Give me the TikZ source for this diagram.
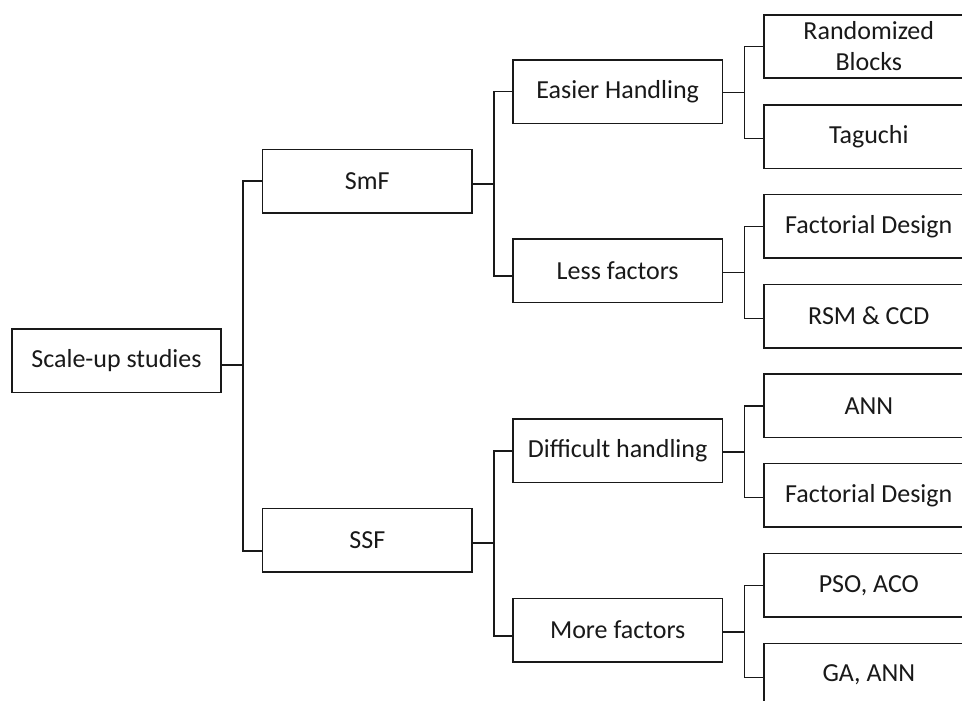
\documentclass[tikz,border=0pt]{standalone}
\usepackage{fontspec}
\setmainfont{Carlito}
\usetikzlibrary{calc}
\begin{document}
\begin{tikzpicture}[x=1pt,y=-1pt,
  box/.style={draw=black!90, line width=1.6pt, minimum width=209.5pt, minimum height=63.4pt,
    inner sep=0pt, align=center, font=\fontsize{26}{31}\selectfont, text=black!90},
  link/.style={draw=black!90, line width=1.6pt}]
\clip (0,0) rectangle (962,701);
\fill[white] (0,0) rectangle (962,701);
% column 1
\node[box] (su) at (116.5,360.8) {Scale-up studies};
% column 2
\node[box] (smf) at (367.3,181) {SmF};
\node[box] (ssf) at (367.3,540) {SSF};
% column 3
\node[box] (eh) at (617.7,91.7) {Easier Handling};
\node[box] (lf) at (617.7,270.8) {Less factors};
\node[box] (dh) at (617.7,450.7) {Difficult handling};
\node[box] (mf) at (617.7,630) {More factors};
% column 4
\node[box] (rb) at (868.8,46.5) {Randomized\\Blocks};
\node[box] (tg) at (868.8,136.7) {Taguchi};
\node[box] (fd1) at (868.8,226.3) {Factorial Design};
\node[box] (rsm) at (868.8,316) {RSM \& CCD};
\node[box] (ann) at (868.8,405.7) {ANN};
\node[box] (fd2) at (868.8,495.3) {Factorial Design};
\node[box] (pso) at (868.8,585.3) {PSO, ACO};
\node[box] (ga) at (868.8,675) {GA, ANN};
% junction points
\coordinate (j1) at (243,365);
\coordinate (j2) at (493.7,184);
\coordinate (j3) at (493.7,542.7);
\coordinate (j4) at (744.3,92.7);
\coordinate (j5) at (744.3,272.3);
\coordinate (j6) at (744.3,451.7);
\coordinate (j7) at (744.3,631.7);
% connectors
\draw[link] (su.east |- j1) -- (j1);
\draw[link] (smf.west) -| ([yshift=-11pt]ssf.west -| j1) -- ([yshift=-11pt]ssf.west);
\draw[link] (smf.east |- j2) -- (j2);
\draw[link] (eh.west) -| ([yshift=-5pt]lf.west -| j2) -- ([yshift=-5pt]lf.west);
\draw[link] (ssf.east |- j3) -- (j3);
\draw[link] (dh.west) -| ([yshift=-5.7pt]mf.west -| j3) -- ([yshift=-5.7pt]mf.west);
\draw[link] (eh.east |- j4) -- (j4);
\draw[link] (rb.west) -| ([yshift=-1.6pt]tg.west -| j4) -- ([yshift=-1.6pt]tg.west);
\draw[link] (lf.east |- j5) -- (j5);
\draw[link] (fd1.west) -| ([yshift=-2.3pt]rsm.west -| j5) -- ([yshift=-2.3pt]rsm.west);
\draw[link] (dh.east |- j6) -- (j6);
\draw[link] (ann.west) -| ([yshift=-2pt]fd2.west -| j6) -- ([yshift=-2pt]fd2.west);
\draw[link] (mf.east |- j7) -- (j7);
\draw[link] (pso.west) -| ([yshift=-2.3pt]ga.west -| j7) -- ([yshift=-2.3pt]ga.west);
\end{tikzpicture}
\end{document}
